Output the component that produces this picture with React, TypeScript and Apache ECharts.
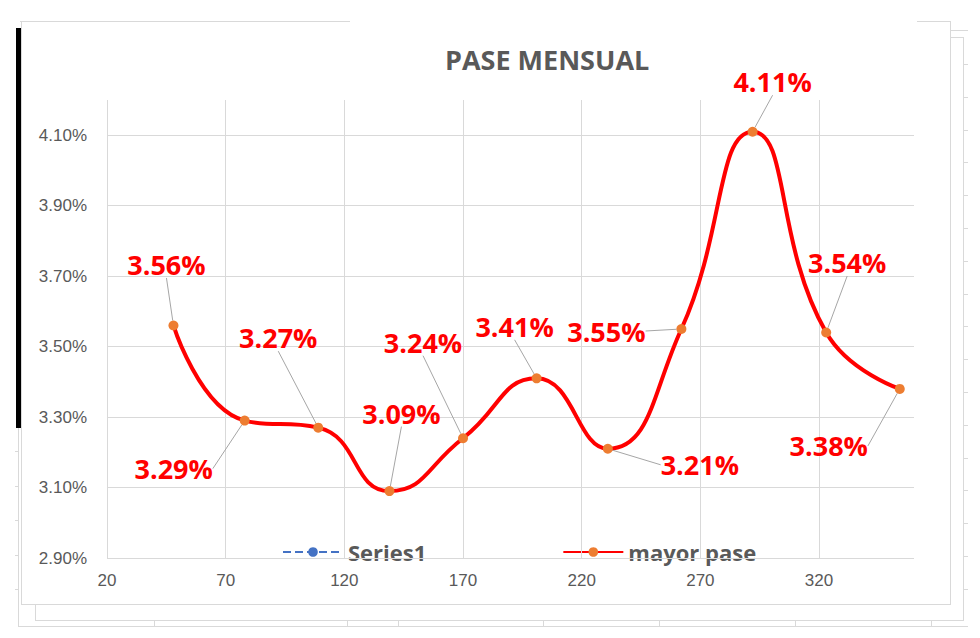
import React, { useEffect, useRef } from "react";
import * as echarts from "echarts";

// ---- data ----
const xValues = [48, 78, 109, 139, 170, 201, 231, 262, 292, 323, 354];
const paseValues = [3.56, 3.29, 3.27, 3.09, 3.24, 3.41, 3.21, 3.55, 4.11, 3.54, 3.38];
const yTicks = [2.9, 3.1, 3.3, 3.5, 3.7, 3.9, 4.1];
const xTicks = [20, 70, 120, 170, 220, 270, 320];
const X_MIN = 20;
const X_MAX = 360;
const Y_MIN = 2.9;
const Y_MAX = 4.2;

// label offsets (label centre relative to its point), layout only
const labelOffsets: [number, number][] = [
  [-7, -61],
  [-71, 48],
  [-40, -90],
  [12, -78],
  [-40, -96],
  [-22, -52],
  [92, 16],
  [-75, 2],
  [20, -50],
  [21, -70],
  [-71, 57],
];

const GREY = "#D9D9D9";

function frameGraphics() {
  const els: any[] = [];
  const line = (x1: number, y1: number, x2: number, y2: number, color = GREY, w = 1) =>
    els.push({
      type: "line",
      silent: true,
      z: -10,
      shape: { x1, y1, x2, y2 },
      style: { stroke: color, lineWidth: w },
    });
  // chart border
  line(20, 21.5, 350, 21.5);
  line(917, 21.5, 950, 21.5);
  line(21.5, 21, 21.5, 604);
  line(950.5, 21, 950.5, 604);
  line(21, 604.5, 951, 604.5);
  // second frame
  line(35.5, 604, 35.5, 620);
  line(35, 620.5, 964, 620.5);
  line(963.5, 37, 963.5, 621);
  line(950, 37.5, 964, 37.5);
  line(950, 30.5, 968, 30.5);
  // outer sheet lines
  line(18.5, 428, 18.5, 627);
  line(18, 626.5, 968, 626.5);
  [154, 347, 398, 543, 659, 795, 931].forEach((x) => line(x + 0.5, 620, x + 0.5, 627));
  for (let y = 451; y < 620; y += 34.5) line(15, Math.round(y) + 0.5, 19, Math.round(y) + 0.5);
  for (let y = 64; y < 620; y += 32.8) line(963, Math.round(y) + 0.5, 968, Math.round(y) + 0.5);
  // black bar
  els.push({
    type: "rect",
    silent: true,
    shape: { x: 16, y: 28, width: 5, height: 400 },
    style: { fill: "#000000" },
  });
  return els;
}

export default function App() {
  const ref = useRef<HTMLDivElement>(null);

  useEffect(() => {
    if (!ref.current) return;
    const chart = echarts.init(ref.current, undefined, { renderer: "svg" });

    const gridMarkData: any[] = [
      ...yTicks.map((v) => ({
        yAxis: v,
        name: v.toFixed(2) + "%",
        label: { position: "start", distance: 20, align: "right" },
      })),
      ...xTicks.map((v) => ({
        xAxis: v,
        name: String(v),
        label: { position: "start", distance: 14 },
      })),
    ];

    chart.setOption({
      animation: false,
      backgroundColor: "#ffffff",
      title: {
        text: "PASE MENSUAL",
        left: 440,
        top: 41,
        textStyle: {
          fontFamily: "Open Sans",
          fontWeight: "bold",
          fontSize: 27,
          color: "#595959",
        },
      },
      graphic: frameGraphics(),
      grid: { left: 107, top: 100, width: 807, height: 458 },
      xAxis: { type: "value", min: X_MIN, max: X_MAX, show: false },
      yAxis: { type: "value", min: Y_MIN, max: Y_MAX, show: false },
      legend: {
        data: ["Series1", "mayor pase"],
        left: 277,
        top: 536,
        itemWidth: 60,
        itemHeight: 12,
        itemGap: 136,
        textStyle: {
          fontFamily: "Open Sans",
          fontWeight: "bold",
          fontSize: 22,
          color: "#595959",
        },
      },
      series: [
        {
          name: "__grid",
          type: "line",
          data: [],
          z: 0,
          silent: true,
          markLine: {
            silent: true,
            symbol: ["none", "none"],
            animation: false,
            lineStyle: { color: GREY, width: 1, type: "solid" },
            label: {
              show: true,
              formatter: "{b}",
              fontFamily: "Liberation Sans",
              fontSize: 17,
              color: "#595959",
            },
            emphasis: { disabled: true },
            data: gridMarkData,
          },
        },
        {
          name: "Series1",
          type: "line",
          data: [],
          symbol: "circle",
          symbolSize: 10,
          lineStyle: { color: "#4472C4", width: 2.5, type: "dashed" },
          itemStyle: { color: "#4472C4" },
        },
        {
          name: "mayor pase",
          type: "line",
          z: 5,
          smooth: 0.5,
          data: xValues.map((x, i) => [x, paseValues[i]]),
          symbol: "circle",
          symbolSize: 10,
          lineStyle: { color: "#FF0000", width: 4 },
          itemStyle: { color: "#ED7D31" },
          label: {
            show: true,
            position: "top",
            formatter: (p: any) => p.value[1].toFixed(2) + "%",
            fontFamily: "Open Sans",
            fontWeight: "bold",
            fontSize: 27,
            color: "#FF0000",
          },
          labelLine: {
            show: true,
            lineStyle: { color: "#A6A6A6", width: 1 },
          },
          labelLayout: (params: any) => {
            const off = labelOffsets[params.dataIndex] || [0, 0];
            const r = params.rect;
            const lr = params.labelRect;
            const px = r.x + r.width / 2;
            const py = r.y + r.height / 2;
            return {
              dx: px + off[0] - (lr.x + lr.width / 2),
              dy: py + off[1] - (lr.y + lr.height / 2),
            };
          },
        },
      ],
    });

    return () => chart.dispose();
  }, []);

  return (
    <div
      ref={ref}
      style={{ position: "absolute", left: 0, top: 0, width: 980, height: 638 }}
    />
  );
}
